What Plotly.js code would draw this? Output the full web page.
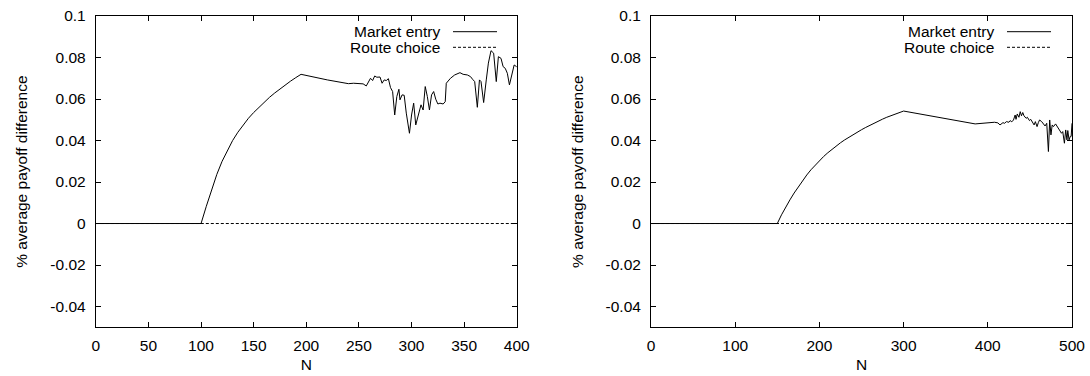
<!DOCTYPE html>
<html>
<head>
<meta charset="utf-8">
<script src="https://cdn.plot.ly/plotly-3.0.1.min.js"></script>
<style>html,body{margin:0;padding:0;background:#fff;}#chart{width:1090px;height:376px;}</style>
</head>
<body>
<div id="chart"></div>
<script>
// ---- Left panel (N up to 400) ----
const leftMarketN = [0,100,105,110,115,120,125,130,135,140,145,150,155,160,165,170,175,180,185,190,195,220,240,245,250,254,257,259,261,263,265,267,270,272,274,276,278,280,282,284,286,288,289,291,293,295,298,300,302,304,306,307,309,311,313,315,317,319,321,323,325,327,330,332,333,337,341,346,349,353,356,358,360,362.5,364.5,366,368.5,371,373,375.5,378,380.5,382.5,385,387,389,391,393,395.5,397.5,400];
const leftMarketV = [0,0,0.0083,0.0163,0.0237,0.0300,0.0354,0.0400,0.0440,0.0475,0.0507,0.0535,0.0561,0.0585,0.0608,0.0629,0.0649,0.0668,0.0686,0.0703,0.0719,0.0692,0.0674,0.0676,0.0673,0.0673,0.0663,0.0684,0.0700,0.0689,0.0711,0.0705,0.0706,0.0676,0.0692,0.0689,0.0698,0.0655,0.0636,0.0523,0.0612,0.0647,0.0596,0.0620,0.0618,0.0532,0.0435,0.0523,0.0580,0.0475,0.0515,0.0532,0.0572,0.0547,0.0660,0.0612,0.0547,0.0620,0.0636,0.0599,0.0576,0.0580,0.0576,0.0587,0.0676,0.0700,0.0716,0.0727,0.0719,0.0716,0.0708,0.0695,0.0684,0.0560,0.0692,0.0684,0.0583,0.0692,0.0773,0.0833,0.0821,0.0684,0.0804,0.0796,0.0756,0.0748,0.0724,0.0668,0.0724,0.0764,0.0755];
const leftRouteN = [0,400];
const leftRouteV = [0,0];
const leftXTicks = [0,50,100,150,200,250,300,350,400];

// ---- Right panel (N up to 500) ----
const rightMarketN = [0,150,155,160,165,170,175,180,185,190,195,200,205,210,215,220,225,230,235,240,245,250,255,260,265,270,275,280,285,290,295,300,385,408,412,414.5,418,420,422,425,426.5,428.5,430.5,432.5,433.5,435,437,438.5,440,441.5,443,445.5,447,449.5,451,453.5,455,456.5,458.5,460,461.5,464,466,468,470,472,473.5,475,476.5,478,480.5,483,485,487.5,489,491,492.5,494,495,496.5,498,499,500];
const rightMarketV = [0,0,0.0042,0.0080,0.0114,0.0147,0.0178,0.0207,0.0234,0.0259,0.0282,0.0303,0.0323,0.0341,0.0358,0.0374,0.0389,0.0403,0.0416,0.0429,0.0441,0.0452,0.0463,0.0474,0.0484,0.0494,0.0503,0.0512,0.0520,0.0528,0.0535,0.0542,0.0480,0.0488,0.0485,0.0475,0.0486,0.0483,0.0491,0.0488,0.0496,0.0490,0.0499,0.0523,0.0502,0.0528,0.0512,0.0539,0.0519,0.0535,0.0519,0.0507,0.0512,0.0496,0.0502,0.0486,0.0475,0.0491,0.0467,0.0486,0.0499,0.0491,0.0483,0.0470,0.0483,0.0347,0.0499,0.0427,0.0475,0.0467,0.0480,0.0464,0.0454,0.0435,0.0443,0.0387,0.0451,0.0403,0.0448,0.0403,0.0420,0.0420,0.0483];
const rightRouteN = [0,500];
const rightRouteV = [0,0];
const rightXTicks = [0,100,200,300,400,500];

// ---- shared ----
const yTickVals = [-0.04,-0.02,0,0.02,0.04,0.06,0.08,0.1];
const yTickText = ['-0.04','-0.02','0','0.02','0.04','0.06','0.08','0.1'];
const seriesNames = ['Market entry','Route choice'];
const xTitle = 'N';
const yTitle = '% average payoff difference';

const FONT = 'Liberation Sans, Arial, Helvetica, sans-serif';
const FS = 15.5;
const W = 1090, H = 376;

const traces = [
  {x:leftMarketN, y:leftMarketV, mode:'lines', line:{color:'#000', width:1}, xaxis:'x', yaxis:'y', name:seriesNames[0]},
  {x:leftRouteN, y:leftRouteV, mode:'lines', line:{color:'#000', width:1, dash:'3px,2px'}, xaxis:'x', yaxis:'y', name:seriesNames[1]},
  {x:rightMarketN, y:rightMarketV, mode:'lines', line:{color:'#000', width:1}, xaxis:'x2', yaxis:'y2', name:seriesNames[0]},
  {x:rightRouteN, y:rightRouteV, mode:'lines', line:{color:'#000', width:1, dash:'3px,2px'}, xaxis:'x2', yaxis:'y2', name:seriesNames[1]}
];

function xAxis(domain, range, ticks, anchor){
  return {domain:domain, range:range, tickmode:'array', tickvals:ticks, ticktext:ticks.map(String),
    ticks:'inside', ticklen:5, tickwidth:1, tickcolor:'#000', showline:true, linecolor:'#000', linewidth:1,
    mirror:'ticks', showgrid:false, zeroline:false, anchor:anchor, ticklabelstandoff:4,
    tickfont:{family:FONT, size:FS, color:'#000'},
    title:{text:xTitle, font:{family:FONT, size:FS, color:'#000'}, standoff:6}};
}
function yAxis(domain, anchor){
  return {domain:domain, range:[-0.05,0.1], tickmode:'array', tickvals:yTickVals, ticktext:yTickText,
    ticks:'inside', ticklen:5, tickwidth:1, tickcolor:'#000', showline:true, linecolor:'#000', linewidth:1,
    mirror:'ticks', showgrid:false, zeroline:false, anchor:anchor, ticklabelstandoff:6,
    tickfont:{family:FONT, size:FS, color:'#000'},
    title:{text:yTitle, font:{family:FONT, size:FS, color:'#000'}, standoff:18}};
}

const yDom = [(H-327.3)/H, (H-16)/H];
const layout = {
  width:W, height:H, margin:{l:0,r:0,t:0,b:0,pad:0},
  paper_bgcolor:'#fff', plot_bgcolor:'#fff', showlegend:false,
  font:{family:FONT, size:FS, color:'#000'},
  xaxis: xAxis([95.8/W, 516.8/W], [0,400], leftXTicks, 'y'),
  yaxis: yAxis(yDom, 'x'),
  xaxis2: xAxis([651/W, 1072/W], [0,500], rightXTicks, 'y2'),
  yaxis2: yAxis(yDom, 'x2'),
  shapes:[], annotations:[]
};

// gnuplot-style keys (text then line sample) inside the top-right of each panel
const keys = [
  {textEnd:442, lineStart:453, lineEnd:497},
  {textEnd:996, lineStart:1007, lineEnd:1051}
];
const rowsY = [31.7, 47.3];
keys.forEach(k => {
  seriesNames.forEach((nm, i) => {
    const yp = (H - rowsY[i]) / H;
    layout.annotations.push({xref:'paper', yref:'paper', x:k.textEnd/W, y:yp, xanchor:'right', yanchor:'middle',
      text:nm, showarrow:false, font:{family:FONT, size:FS, color:'#000'}});
    layout.shapes.push({type:'line', xref:'paper', yref:'paper', x0:k.lineStart/W, x1:k.lineEnd/W, y0:yp, y1:yp,
      line:{color:'#000', width:1, dash: i===0 ? 'solid' : '3px,2px'}});
  });
});

Plotly.newPlot('chart', traces, layout, {staticPlot:true, displayModeBar:false});
</script>
</body>
</html>
